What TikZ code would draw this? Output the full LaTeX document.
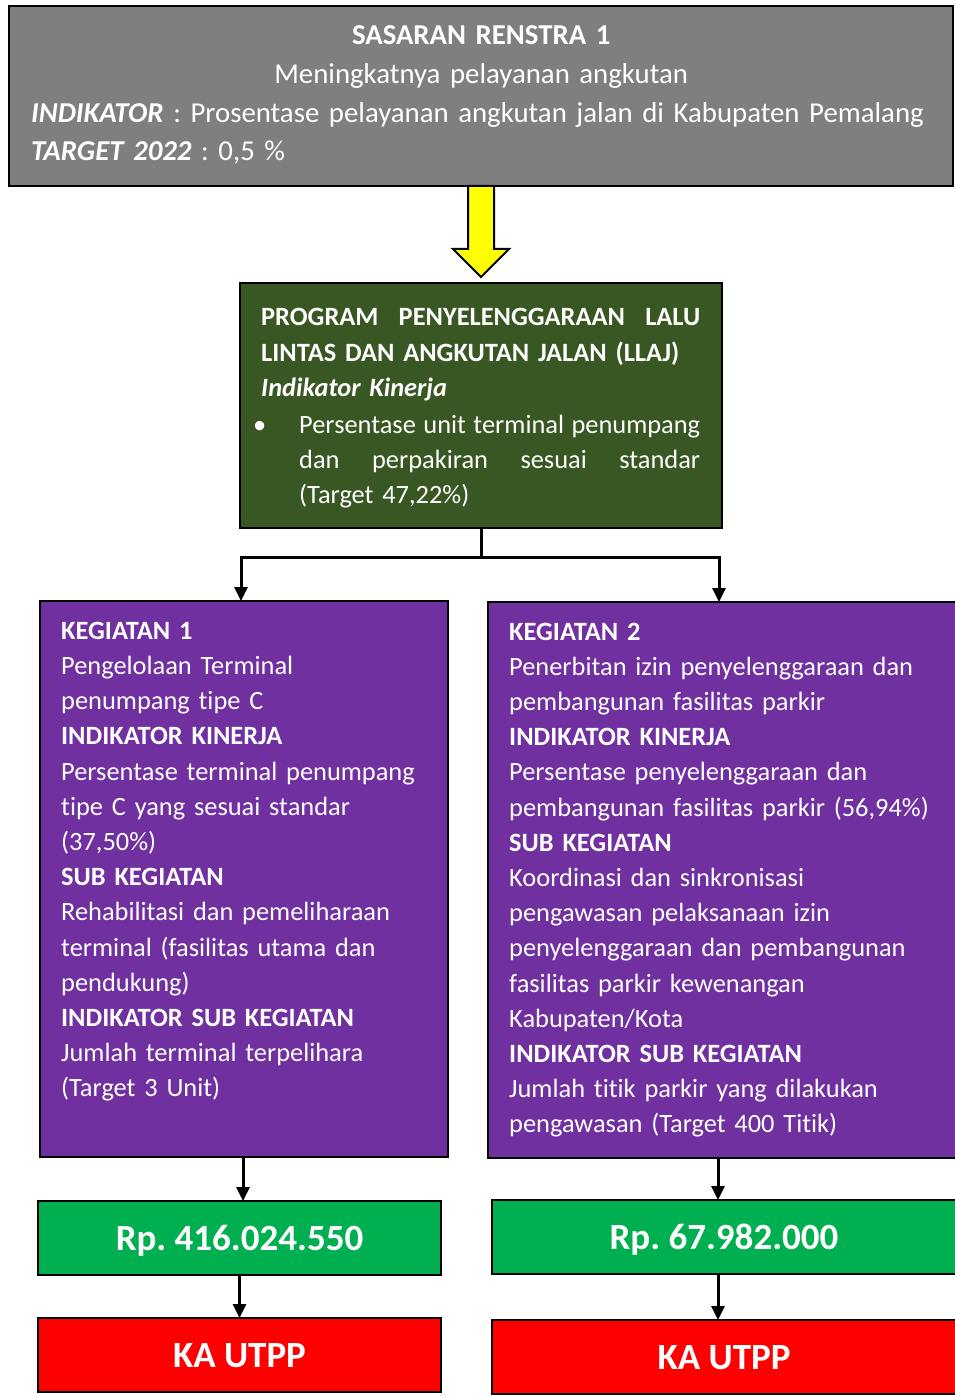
\documentclass[tikz,border=0pt]{standalone}
\usepackage{fontspec}
\setmainfont{Carlito}[Ligatures={NoCommon}]
\usetikzlibrary{arrows.meta,calc}
\definecolor{topgray}{HTML}{7F7F7F}
\definecolor{progreen}{HTML}{385723}
\definecolor{kegpurple}{HTML}{7030A0}
\definecolor{rpgreen}{HTML}{00B050}
\definecolor{kared}{HTML}{FF0000}
\definecolor{arrowyellow}{HTML}{FFFF00}
\newcommand\topfont{\fontsize{28.8}{38.6}\selectfont}
\newcommand\bodyfont{\fontsize{26.4}{35.2}\selectfont}
\newcommand\bigfont{\fontsize{37}{44}\selectfont\bfseries}
\newcommand\jsp{\hskip 0.2em plus 1fil minus 0.1em\relax}
\newcommand\jline[1]{\leavevmode\hbox to 439pt{#1}}
\frenchspacing
\begin{document}
\begin{tikzpicture}[x=1pt,y=-1pt,
  box/.style={draw=black,line width=2.5pt,anchor=north west,inner sep=0pt,outer sep=0pt},
  txt/.style={text=white,inner sep=0pt,anchor=base west,align=left},
  conn/.style={line width=3pt,-{Triangle[width=13pt,length=14pt]}},
  money/.style={box,fill=rpgreen,text=white,font=\bigfont,text height=24pt,text depth=0pt},
  kabox/.style={box,fill=kared,text=white,font=\bigfont,text height=24pt,text depth=0pt}]
\useasboundingbox (0,0) rectangle (954,1396);
\fill[white] (0,0) rectangle (954,1396);

% boxes
\node[box,fill=topgray,minimum width=944pt,minimum height=180pt] (top) at (9,6) {};
\node[box,fill=progreen,minimum width=482pt,minimum height=245pt] (prog) at (240,283) {};
\node[box,line width=2pt,fill=kegpurple,minimum width=408pt,minimum height=556pt] (k1) at (40,601) {};
\node[box,line width=2pt,fill=kegpurple,minimum width=472pt,minimum height=556pt] (k2) at (488,602) {};
\node[money,minimum width=403pt,minimum height=74pt] (m1) at (38,1201) {Rp. 416.024.550};
\node[money,minimum width=464pt,minimum height=74pt] (m2) at (492,1200) {Rp. 67.982.000};
\node[kabox,minimum width=403pt,minimum height=74pt] (ka1) at (38,1318) {KA UTPP};
\node[kabox,minimum width=464pt,minimum height=74pt] (ka2) at (492,1320) {KA UTPP};

% top text
\node[txt,text width=915pt,font=\topfont] (toptext) at (31,45) {%
\makebox[900pt]{\textbf{SASARAN RENSTRA 1}}\\
\makebox[900pt]{Meningkatnya pelayanan angkutan}\\
\mbox{\textbf{\textit{INDIKATOR}} : Prosentase pelayanan angkutan jalan di Kabupaten Pemalang}\\
\textbf{\textit{TARGET 2022}} : 0,5 \%};

% program text
\node[txt,text width=445pt,font=\bodyfont] (progtext) at (261,326) {%
\jline{\bfseries PROGRAM\jsp PENYELENGGARAAN\jsp LALU}\\
\textbf{LINTAS DAN ANGKUTAN JALAN (LLAJ)}\\
\textbf{\textit{Indikator Kinerja}}\\[1.5pt]
\jline{\hbox to 38pt{\hspace{-8pt}\textbullet\hss}Persentase\jsp unit\jsp terminal\jsp penumpang}\\
\jline{\hspace*{38pt}dan\jsp perpakiran\jsp sesuai\jsp standar}\\
\hspace*{38pt}(Target 47,22\%)};

% kegiatan 1 text
\node[txt,text width=390pt,font=\bodyfont] (k1text) at (61,639.3) {%
\textbf{KEGIATAN 1}\\
Pengelolaan Terminal\\
penumpang tipe C\\
\textbf{INDIKATOR KINERJA}\\
Persentase terminal penumpang\\
tipe C yang sesuai standar\\
(37,50\%)\\
\textbf{SUB KEGIATAN}\\
Rehabilitasi dan pemeliharaan\\
terminal (fasilitas utama dan\\
pendukung)\\
\textbf{INDIKATOR SUB KEGIATAN}\\
Jumlah terminal terpelihara\\
(Target 3 Unit)};

% kegiatan 2 text
\node[txt,text width=440pt,font=\bodyfont] (k2text) at (509,640) {%
\textbf{KEGIATAN 2}\\
Penerbitan izin penyelenggaraan dan\\
pembangunan fasilitas parkir\\
\textbf{INDIKATOR KINERJA}\\
Persentase penyelenggaraan dan\\
pembangunan fasilitas parkir (56,94\%)\\
\textbf{SUB KEGIATAN}\\
Koordinasi dan sinkronisasi\\
pengawasan pelaksanaan izin\\
penyelenggaraan dan pembangunan\\
fasilitas parkir kewenangan\\
Kabupaten/Kota\\
\textbf{INDIKATOR SUB KEGIATAN}\\
Jumlah titik parkir yang dilakukan\\
pengawasan (Target 400 Titik)};

% yellow block arrow
\draw[line width=2pt,fill=arrowyellow,line join=miter]
  ($(top.south)+(-13,0)$) -- ($(top.south)+(-13,63)$) -- ($(top.south)+(-28,63)$)
  -- ($(prog.north)+(0,-6)$) -- ($(top.south)+(28,63)$) -- ($(top.south)+(13,63)$)
  -- ($(top.south)+(13,0)$) -- cycle;

% split connector
\draw[line width=3pt] (prog.south) -- ++(0,29) coordinate (split);
\coordinate (k1in) at ($(k1.north west)+(201,0)$);
\coordinate (k2in) at ($(k2.north west)+(231,0)$);
\draw[conn] (split) -| (k1in);
\draw[conn] (split) -| (k2in);

% lower connectors
\coordinate (k1out) at ($(k1.south west)+(203,0)$);
\coordinate (k2out) at ($(k2.south west)+(230,0)$);
\draw[conn] (k1out) -- (k1out |- m1.north);
\draw[conn] (m1.south) -- (ka1.north);
\draw[conn] (k2out) -- (k2out |- m2.north);
\draw[conn] (k2out |- m2.south) -- (k2out |- ka2.north);
\end{tikzpicture}
\end{document}
